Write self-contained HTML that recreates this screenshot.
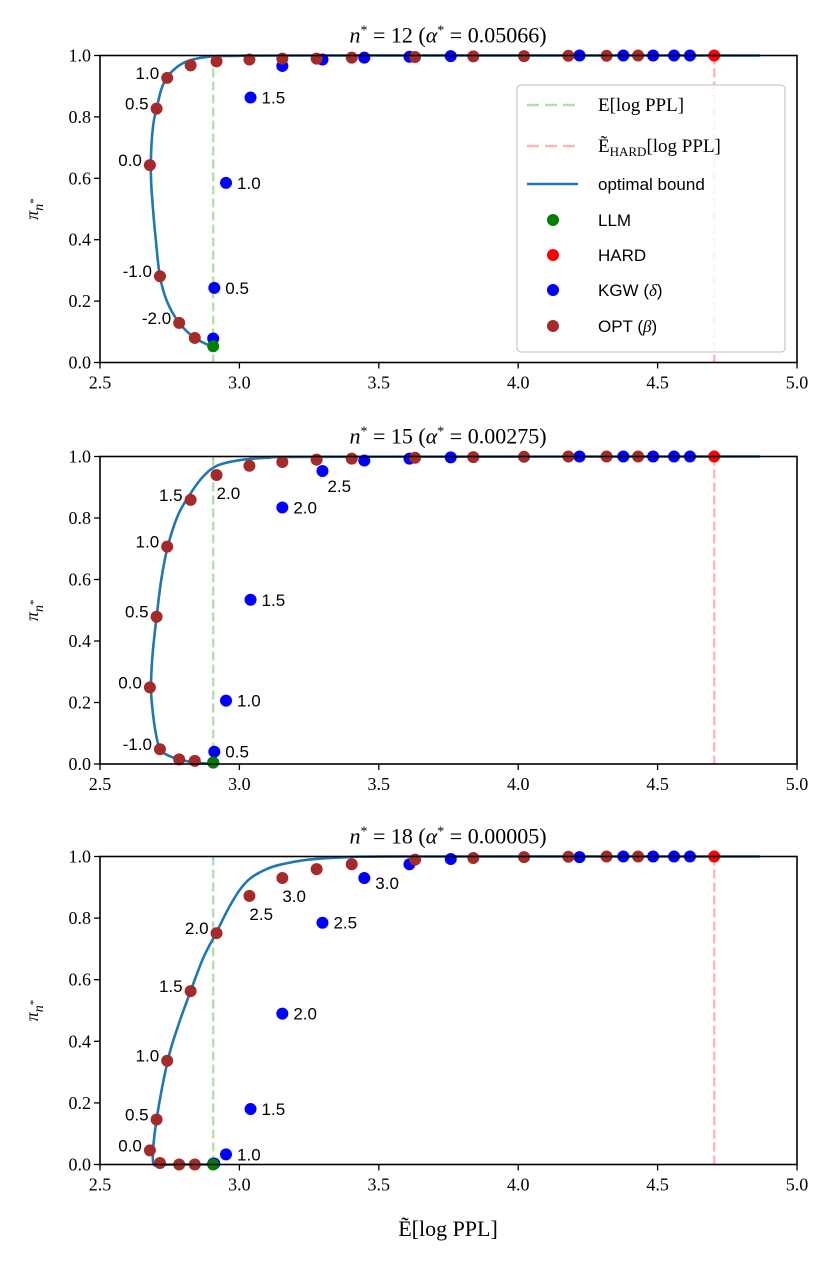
<!DOCTYPE html>
<html><head><meta charset="utf-8">
<style>
html,body{margin:0;padding:0;background:#fff;}
svg{display:block;}
.tick{font-family:"Liberation Serif",serif;font-size:18px;fill:#000;}
.ann{font-family:"Liberation Sans",sans-serif;font-size:17px;fill:#000;}
.title{font-family:"Liberation Serif",serif;font-size:22px;fill:#000;}
.leg{font-family:"Liberation Sans",sans-serif;font-size:17px;fill:#000;}
.legm{font-family:"Liberation Serif",serif;font-size:19px;fill:#000;}
</style></head>
<body>
<svg id="chart" width="831" height="1262" viewBox="0 0 831 1262" xmlns="http://www.w3.org/2000/svg"></svg>
<script>
// ---- data ----
const titles = ["12", "15", "18"];
const alphas = ["0.05066", "0.00275", "0.00005"];
const xTicks = [2.5, 3.0, 3.5, 4.0, 4.5, 5.0];
const yTicks = [0.0, 0.2, 0.4, 0.6, 0.8, 1.0];
const llmX = 2.906;
const hardX = 4.703;
const llmY = [0.053, 0.005, 0.0];
const hardY = [1.0, 1.0, 1.0];

const optX = [2.679, 2.703, 2.741, 2.825, 2.918, 3.036, 3.154, 3.277, 3.403, 3.63, 3.839, 4.021, 4.18, 4.317, 4.43, 2.715, 2.784, 2.84];
const optY1 = [0.643, 0.827, 0.927, 0.968, 0.981, 0.987, 0.99, 0.99, 0.993, 0.995, 0.997, 0.998, 0.999, 0.999, 1.0, 0.281, 0.129, 0.08];
const optY2 = [0.249, 0.479, 0.707, 0.859, 0.94, 0.97, 0.982, 0.99, 0.993, 0.996, 0.998, 0.999, 1.0, 1.0, 1.0, 0.048, 0.015, 0.01];
const optY3 = [0.046, 0.146, 0.337, 0.563, 0.751, 0.872, 0.93, 0.959, 0.975, 0.99, 0.995, 0.998, 0.999, 1.0, 1.0, 0.005, 0.0, 0.0];

const kgwX = [2.906, 2.91, 2.952, 3.04, 3.154, 3.298, 3.448, 3.61, 3.758, 4.22, 4.377, 4.484, 4.559, 4.616];
const kgwY1 = [0.078, 0.243, 0.585, 0.863, 0.966, 0.987, 0.993, 0.996, 0.998, 1.0, 1.0, 1.0, 1.0, 1.0];
const kgwY2 = [0.005, 0.04, 0.206, 0.534, 0.834, 0.953, 0.987, 0.993, 0.997, 1.0, 1.0, 1.0, 1.0, 1.0];
const kgwY3 = [0.003, 0.003, 0.033, 0.18, 0.49, 0.785, 0.93, 0.975, 0.992, 0.998, 1.0, 1.0, 1.0, 1.0];

const curveX1 = [2.906, 2.84, 2.784, 2.74, 2.715, 2.7, 2.69, 2.683, 2.684, 2.692, 2.703, 2.72, 2.741, 2.78, 2.825, 2.9, 3.0, 3.2, 4.867];
const curveY1 = [0.05, 0.08, 0.129, 0.2, 0.281, 0.4, 0.5, 0.6, 0.7, 0.78, 0.827, 0.89, 0.93, 0.965, 0.985, 0.997, 0.999, 1.0, 1.0];
const curveX2 = [2.906, 2.84, 2.784, 2.74, 2.715, 2.70, 2.688, 2.683, 2.688, 2.703, 2.72, 2.743, 2.78, 2.825, 2.87, 2.92, 3.0, 3.1, 3.3, 4.867];
const curveY2 = [0.0, 0.005, 0.015, 0.03, 0.048, 0.1, 0.18, 0.25, 0.35, 0.479, 0.6, 0.707, 0.81, 0.88, 0.935, 0.97, 0.988, 0.996, 0.999, 1.0];
const curveX3 = [2.906, 2.78, 2.72, 2.69, 2.703, 2.743, 2.78, 2.825, 2.87, 2.916, 2.96, 3.0, 3.04, 3.1, 3.154, 3.25, 3.4, 3.6, 4.867];
const curveY3 = [0.0, 0.0, 0.0, 0.01, 0.146, 0.337, 0.45, 0.563, 0.67, 0.751, 0.83, 0.89, 0.93, 0.96, 0.975, 0.99, 0.998, 1.0, 1.0];

const ann1 = [["o",0,"0.0"],["o",1,"0.5"],["o",2,"1.0"],["o",15,"-1.0"],["o",16,"-2.0"],["k",1,"0.5"],["k",2,"1.0"],["k",3,"1.5"]];
const ann2 = [["o",0,"0.0"],["o",1,"0.5"],["o",2,"1.0"],["o",3,"1.5"],["o",15,"-1.0"],["o",4,"2.0"],["k",1,"0.5"],["k",2,"1.0"],["k",3,"1.5"],["k",4,"2.0"],["k",5,"2.5"]];
const ann3 = [["o",0,"0.0"],["o",1,"0.5"],["o",2,"1.0"],["o",3,"1.5"],["o",4,"2.0"],["o",5,"2.5"],["o",6,"3.0"],["k",2,"1.0"],["k",3,"1.5"],["k",4,"2.0"],["k",5,"2.5"],["k",6,"3.0"]];

const panels = [
  {top:55.5, bot:362.5, optY:optY1, kgwY:kgwY1, cx:curveX1, cy:curveY1, ann:ann1},
  {top:456.5, bot:764, optY:optY2, kgwY:kgwY2, cx:curveX2, cy:curveY2, ann:ann2},
  {top:856.5, bot:1164.5, optY:optY3, kgwY:kgwY3, cx:curveX3, cy:curveY3, ann:ann3}
];
const X0 = 100, X1 = 797;
const NS = "http://www.w3.org/2000/svg";
const svg = document.getElementById("chart");
function mk(tag, attrs, parent){
  const e = document.createElementNS(NS, tag);
  for (const k in attrs) e.setAttribute(k, attrs[k]);
  (parent||svg).appendChild(e);
  return e;
}
function sx(v){ return X0 + (v - 2.5) / 2.5 * (X1 - X0); }
function smoothPath(P){
  let d = "M" + P[0][0].toFixed(1) + "," + P[0][1].toFixed(1);
  for (let i = 0; i < P.length - 1; i++) {
    const p0 = P[Math.max(0,i-1)], p1 = P[i], p2 = P[i+1], p3 = P[Math.min(P.length-1,i+2)];
    const t = 1/6;
    const c1 = [p1[0] + (p2[0]-p0[0])*t, p1[1] + (p2[1]-p0[1])*t];
    const c2 = [p2[0] - (p3[0]-p1[0])*t, p2[1] - (p3[1]-p1[1])*t];
    d += " C" + c1[0].toFixed(1)+","+c1[1].toFixed(1)+" "+c2[0].toFixed(1)+","+c2[1].toFixed(1)+" "+p2[0].toFixed(1)+","+p2[1].toFixed(1);
  }
  return d;
}

panels.forEach((p, pi) => {
  const sy = v => p.bot - v * (p.bot - p.top);
  const g = mk("g", {});
  
  
  const t = mk("text", {x:448, y:p.top-13, "text-anchor":"middle", class:"title"}, g);
  
  
  t.innerHTML = '<tspan font-style="italic">n</tspan><tspan font-size="14" dy="-8">*</tspan><tspan dy="8"> = ' + titles[pi] + ' (</tspan><tspan font-style="italic">α</tspan><tspan font-size="14" dy="-8">*</tspan><tspan dy="8"> = ' + alphas[pi] + ')</tspan>';
  const vl = mk("line", {x1:sx(llmX), x2:sx(llmX), y1:p.top, y2:p.bot, stroke:"#b3dfb0", "stroke-width":2.5, "stroke-dasharray":"9,4"}, g);
  
  
  const vh = mk("line", {x1:sx(hardX), x2:sx(hardX), y1:p.top, y2:p.bot, stroke:"#ffb6b6", "stroke-width":2.5, "stroke-dasharray":"9,4"}, g);
  
  
  const pts = p.cx.map((x,i)=> [sx(x), sy(p.cy[i])]);
  const cl = mk("path", {d:smoothPath(pts), fill:"none", stroke:"#1f77b4", "stroke-width":2.6, "stroke-linejoin":"round"}, g);
  
  
  kgwX.forEach((x,i)=>{
    const c = mk("circle", {cx:sx(x), cy:sy(p.kgwY[i]), r:6, fill:"#0000ff"}, g);
    
    
  });
  optX.forEach((x,i)=>{
    const c = mk("circle", {cx:sx(x), cy:sy(p.optY[i]), r:6, fill:"#a52a2a"}, g);
    
    
  });
  const cg = mk("circle", {cx:sx(llmX), cy:sy(llmY[pi]), r:6, fill:"#008000"}, g);
  
  
  const ch = mk("circle", {cx:sx(hardX), cy:sy(hardY[pi]), r:6, fill:"#ff0000"}, g);
  
  
  p.ann.forEach(a=>{
    const isO = a[0]==="o";
    const x = sx(isO ? optX[a[1]] : kgwX[a[1]]);
    const y = sy(isO ? p.optY[a[1]] : p.kgwY[a[1]]);
    let tx, ty, anchor;
    if (isO) {
      const below = (pi===1 && a[1]===4) || (pi===2 && (a[1]===5 || a[1]===6));
      if (below) { tx = x; ty = y + 24; anchor = "start"; }
      else { tx = x - 8; ty = y + 1; anchor = "end"; }
    } else {
      if ((pi===1 && a[1]===5)) { tx = x + 5; ty = y + 21; }
      else if (pi===2 && a[1]===6) { tx = x + 11; ty = y + 11; }
      else { tx = x + 11; ty = y + 6; }
      anchor = "start";
    }
    const at = mk("text", {x:tx, y:ty, "text-anchor":anchor, class:"ann"}, g);
    
    
    at.textContent = a[2];
  });
  const fr = mk("rect", {x:X0, y:p.top, width:X1-X0, height:p.bot-p.top, fill:"none", stroke:"#000", "stroke-width":1.6}, g);
  
  
  xTicks.forEach(v=>{
    const l = mk("line", {x1:sx(v), x2:sx(v), y1:p.bot, y2:p.bot+6, stroke:"#000", "stroke-width":1.3}, g);
    
    
    const tt = mk("text", {x:sx(v), y:p.bot+26, "text-anchor":"middle", class:"tick"}, g);
    
    
    tt.textContent = v.toFixed(1);
  });
  yTicks.forEach(v=>{
    const l = mk("line", {x1:X0-6, x2:X0, y1:sy(v), y2:sy(v), stroke:"#000", "stroke-width":1.3}, g);
    
    
    const tt = mk("text", {x:X0-9, y:sy(v)+6, "text-anchor":"end", class:"tick"}, g);
    
    
    tt.textContent = v.toFixed(1);
  });
  const yl = mk("text", {x:0, y:0, transform:"translate(38,"+((p.top+p.bot)/2)+") rotate(-90)", "text-anchor":"middle", class:"tick", "font-size":"20"}, g);
  
  
  yl.innerHTML = '<tspan font-style="italic">π</tspan><tspan font-style="italic" font-size="14" dy="5">n</tspan><tspan font-size="11" dy="-6">*</tspan>';
});

const xl = mk("text", {x:448, y:1236, "text-anchor":"middle", class:"title", "font-size":"20"});


xl.textContent = "Ẽ[log PPL]";

const lg = mk("g", {});


mk("rect", {x:517, y:85, width:268, height:267, rx:4, fill:"#fff", "fill-opacity":0.85, stroke:"#ccc", "stroke-width":1.3}, lg);
const legRows = [105, 146, 184, 220, 255, 290, 326];
function legLine(y, color, dash){
  const l = mk("line", {x1:527, x2:578, y1:y, y2:y, stroke:color, "stroke-width":2.6, "stroke-dasharray":dash}, lg);
  
  
}
function legDot(y, color){
  const c = mk("circle", {cx:553, cy:y, r:6, fill:color}, lg);
  
  
}
function legText(y, html, cls){
  const t = mk("text", {x:598, y:y+6, class:cls}, lg);
  
  
  t.innerHTML = html;
}
legLine(legRows[0], "#b3dfb0", "12,6"); legText(legRows[0], "E[log PPL]", "legm");
legLine(legRows[1], "#ffb6b6", "12,6"); legText(legRows[1], 'Ẽ<tspan font-size="13" dy="4">HARD</tspan><tspan dy="-4">[log PPL]</tspan>', "legm");
legLine(legRows[2], "#1f77b4", ""); legText(legRows[2], "optimal bound", "leg");
legDot(legRows[3], "#008000"); legText(legRows[3], "LLM", "leg");
legDot(legRows[4], "#ff0000"); legText(legRows[4], "HARD", "leg");
legDot(legRows[5], "#0000ff"); legText(legRows[5], 'KGW (<tspan font-style="italic" font-family="Liberation Serif">δ</tspan>)', "leg");
legDot(legRows[6], "#a52a2a"); legText(legRows[6], 'OPT (<tspan font-style="italic" font-family="Liberation Serif">β</tspan>)', "leg");
</script>
</body></html>
